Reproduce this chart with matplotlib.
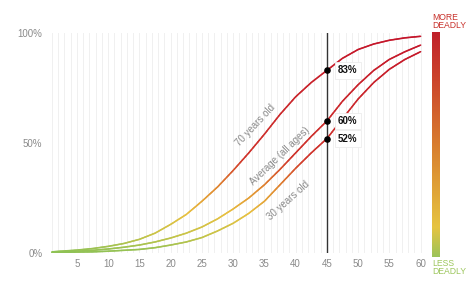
import numpy as np
import matplotlib
matplotlib.use("Agg")
import matplotlib.pyplot as plt
from matplotlib.collections import LineCollection
from matplotlib.colors import LinearSegmentedColormap

plt.rcParams['font.family'] = ['Liberation Sans', 'DejaVu Sans']

# age of infection / outcome curves
years = [1, 2.5, 5, 7.5, 10, 12.5, 15, 17.5, 20, 22.5, 25, 27.5, 30, 32.5,
         35, 37.5, 40, 42.5, 45, 47.5, 50, 52.5, 55, 57.5, 60]
old70 = [0.005, 0.008, 0.013, 0.02, 0.03, 0.043, 0.062, 0.09, 0.13, 0.175, 0.235,
         0.3, 0.375, 0.455, 0.54, 0.63, 0.71, 0.775, 0.83, 0.885, 0.925, 0.95,
         0.967, 0.978, 0.985]
average = [0.003, 0.005, 0.008, 0.012, 0.018, 0.026, 0.036, 0.05, 0.068, 0.09,
           0.118, 0.155, 0.2, 0.25, 0.31, 0.38, 0.455, 0.53, 0.60, 0.69, 0.765,
           0.83, 0.88, 0.915, 0.945]
old30 = [0.002, 0.003, 0.004, 0.005, 0.008, 0.012, 0.016, 0.024, 0.036, 0.05,
         0.07, 0.1, 0.135, 0.18, 0.235, 0.31, 0.385, 0.455, 0.52, 0.61, 0.70,
         0.775, 0.835, 0.88, 0.915]

marker_x = 45
marker_vals = [0.83, 0.60, 0.52]
marker_txt = ["83%", "60%", "52%"]

curve_labels = ["70 years old", "Average (all ages)", "30 years old"]
label_pos = [(33.6, 0.58), (37.5, 0.44), (38.8, 0.24)]

cmap = LinearSegmentedColormap.from_list(
    "deadly", [(0.0, "#9cc35a"), (0.13, "#e6c440"), (0.48, "#d9802f"),
               (0.78, "#cc452b"), (1.0, "#c0202a")])
line_cmap = LinearSegmentedColormap.from_list(
    "deadly_line", [(0.0, "#8fc255"), (0.08, "#c8c448"), (0.18, "#e8c040"),
                    (0.3, "#e0862f"), (0.43, "#d0342b"), (1.0, "#c4142a")])

fig = plt.figure(figsize=(4.74, 2.82), dpi=100)
ax = fig.add_axes([0.107, 0.103, 0.787, 0.780])
ax.set_xlim(0.8, 60.5)
ax.set_ylim(0, 1)

for s in ax.spines.values():
    s.set_visible(False)

for g in range(1, 61):
    ax.axvline(g, color="#f0f0f0", lw=0.7, zorder=0)


def grad_line(x, y):
    # split each segment in small pieces so the colour follows the value
    xs, ys = [], []
    for i in range(len(x) - 1):
        t = np.linspace(0, 1, 12, endpoint=False)
        xs.extend(x[i] + (x[i + 1] - x[i]) * t)
        ys.extend(y[i] + (y[i + 1] - y[i]) * t)
    xs.append(x[-1]); ys.append(y[-1])
    pts = np.array([xs, ys]).T.reshape(-1, 1, 2)
    segs = np.concatenate([pts[:-1], pts[1:]], axis=1)
    mid = (np.array(ys[:-1]) + np.array(ys[1:])) / 2
    lc = LineCollection(segs, cmap=line_cmap, norm=plt.Normalize(0, 1), lw=1.15,
                        capstyle="round", zorder=2)
    lc.set_array(mid)
    ax.add_collection(lc)


for series in [old70, average, old30]:
    grad_line(years, series)

ax.axvline(marker_x, color="#333333", lw=1.0, zorder=3)
ax.scatter([marker_x] * 3, marker_vals, s=14, color="black", zorder=5)
for v, t in zip(marker_vals, marker_txt):
    ax.annotate(t, (marker_x, v), xytext=(8, 0), textcoords="offset points",
                ha="left", va="center", fontsize=7, fontweight="bold",
                color="#111111", zorder=4,
                bbox=dict(boxstyle="square,pad=0.35", fc="white", ec="#ececec", lw=0.6))

for t, (lx, ly), rot in zip(curve_labels, label_pos, [47, 44, 42]):
    ax.text(lx, ly, t, rotation=rot, ha="center", va="center", fontsize=7,
            color="#8a8a8a", rotation_mode="anchor")

ax.set_xticks(range(5, 61, 5))
ax.set_yticks([0, 0.5, 1])
ax.set_yticklabels(["0%", "50%", "100%"])
ax.tick_params(length=0, labelsize=7, labelcolor="#8a8a8a")
ax.tick_params(axis="x", pad=4)
ax.tick_params(axis="y", pad=6)

# colour bar on the right
cax = fig.add_axes([0.911, 0.089, 0.0148, 0.798])
cax.imshow(np.linspace(1, 0, 256).reshape(-1, 1), cmap=cmap, aspect="auto",
           extent=[0, 1, 0, 1])
cax.set_axis_off()
fig.text(0.911, 0.892, "MORE\nDEADLY", color="#c8302a", fontsize=6.2,
         ha="left", va="bottom", linespacing=0.95)
fig.text(0.911, 0.083, "LESS\nDEADLY", color="#9cc65c", fontsize=6.2,
         ha="left", va="top", linespacing=0.95)

fig.savefig("out.png", dpi=100)
